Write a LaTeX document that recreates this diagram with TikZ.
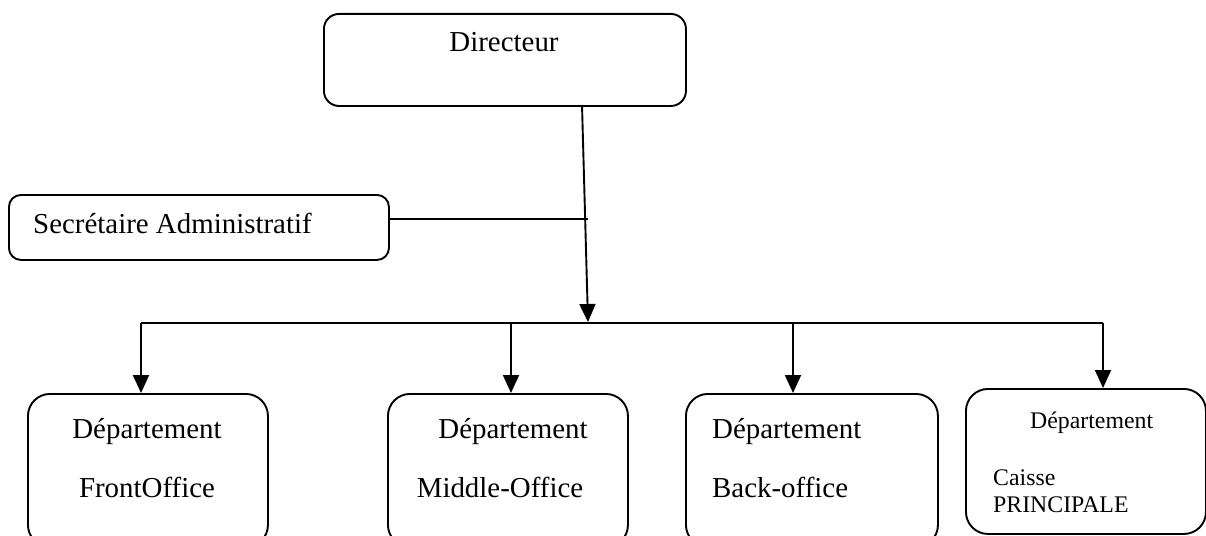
\documentclass[tikz,border=0pt]{standalone}
\usepackage{fontspec}
\setmainfont{Liberation Serif}
\usetikzlibrary{arrows.meta}
\begin{document}
\begin{tikzpicture}[x=1pt,y=-1pt,
  box/.style={draw, line width=1.9pt, rounded corners=15pt, inner sep=0pt, anchor=north west},
  dept/.style={box, rounded corners=22pt},
  big/.style={font=\fontsize{28.9}{34}\selectfont, inner sep=0pt, anchor=base},
  small/.style={font=\fontsize{23.8}{28}\selectfont, inner sep=0pt, anchor=base west},
  link/.style={line width=1.9pt},
  arr/.style={line width=1.9pt, -{Triangle[width=16pt,length=18pt]}}]
\clip (0,0) rectangle (1206,535);

% Director and secretary
\node[box, minimum width=362pt, minimum height=92pt] (dir) at (323,13) {};
\node[big] (dirtxt) at (504,52) {Directeur};
\node[box, rounded corners=12pt, minimum width=380pt, minimum height=65pt] (sec) at (8,194) {};
\node[big, anchor=base west] (sectxt) at (33,233) {Secrétaire Administratif};

\coordinate (dtop) at (582,105);
\coordinate (hub) at (588,322);
\coordinate (sj) at (588,219);
\draw[link] (sec.east |- sj) -- (sj);
\draw[arr] (dtop) -- (hub);

% Distribution bus
\coordinate (bl) at (141,323);
\coordinate (bm) at (511,323);
\coordinate (bb) at (793,323);
\coordinate (br) at (1103,323);
\draw[link] (bl) -- (br);

% Departments
\node[dept, minimum width=240pt, minimum height=153pt] (front) at (27,393) {};
\node[dept, minimum width=240pt, minimum height=153pt] (middle) at (387,393) {};
\node[dept, minimum width=252pt, minimum height=153pt] (back) at (685,393) {};
\node[dept, minimum width=240pt, minimum height=145pt] (caisse) at (965,388) {};

\draw[arr] (bl) -- (bl |- front.north);
\draw[arr] (bm) -- (bm |- middle.north);
\draw[arr] (bb) -- (bb |- back.north);
\draw[arr] (br) -- (br |- caisse.north);

\node[big] (f1) at (147,438) {Département};
\node[big] (f2) at (147,497) {FrontOffice};
\node[big] (m1) at (513,438) {Département};
\node[big] (m2) at (500,497) {Middle-Office};
\node[big, anchor=base west] (b1) at (712,438) {Département};
\node[big, anchor=base west] (b2) at (712,497) {Back-office};
\node[small] (c1) at (1030,428) {Département};
\node[small] (c2) at (993,485) {Caisse};
\node[small] (c3) at (993,512) {PRINCIPALE};
\end{tikzpicture}
\end{document}
